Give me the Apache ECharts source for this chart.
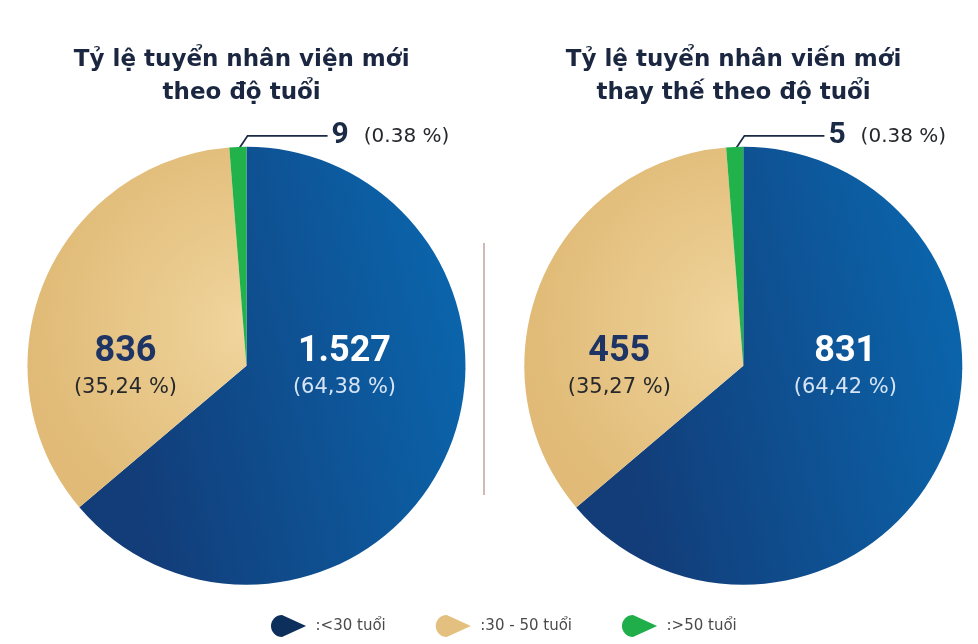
<!DOCTYPE html>
<html>
<head>
<meta charset="utf-8">
<script src="https://cdn.jsdelivr.net/npm/echarts@6/dist/echarts.min.js"></script>
<style>
html, body { margin: 0; padding: 0; background: #fff; }
#chart { width: 978px; height: 644px; }
</style>
</head>
<body>
<div id="chart"></div>
<script>
var categories = ['<30 tuổi', '30 - 50 tuổi', '>50 tuổi'];
var newHireCounts = [1527, 836, 9];
var newHireCountText = ['1.527', '836', '9'];
var newHirePctText = ['64,38 %', '35,24 %', '0.38 %'];
var replaceCounts = [831, 455, 5];
var replaceCountText = ['831', '455', '5'];
var replacePctText = ['64,42 %', '35,27 %', '0.38 %'];
var titles = ['Tỷ lệ tuyển nhân viện mới\ntheo độ tuổi', 'Tỷ lệ tuyển nhân viến mới\nthay thế theo độ tuổi'];

var myChart = echarts.init(document.getElementById('chart'));
var W = myChart.getWidth(), H = myChart.getHeight();
var centers = [['25.2%', '56.8%'], ['76%', '56.8%']];
var radius = 219;
// horizontal offset of the inner labels from the pie center
var labelShift = [[98, -121], [102, -124]];

var blue = new echarts.graphic.LinearGradient(0, 0.2, 1, 0, [
    {offset: 0, color: '#123d79'},
    {offset: 1, color: '#0a69b1'}
]);
var beige = new echarts.graphic.RadialGradient(1, 0.5, 1, [
    {offset: 0, color: '#f0d59d'},
    {offset: 1, color: '#e0ba76'}
]);
var green = '#22b24c';
var colors = [blue, beige, green];
var legendColors = ['#0d2f5c', '#e3c07f', '#1fae4a'];

var tear = 'path://M36,11 L13,0.5 A10.5,10.5 0 1,0 13,21.5 Z';

function buildData(counts, countText, pctText) {
    return counts.map(function (v, i) {
        var item = {
            name: categories[i],
            value: v,
            itemStyle: {color: colors[i]}
        };
        if (i === 2) {
            item.label = {
                position: 'outside',
                formatter: '{g|' + countText[i] + '}{p|(' + pctText[i] + ')}'
            };
            item.labelLine = {show: true, lineStyle: {color: '#1b2a45', width: 1.8}};
        } else {
            item.label = {
                formatter: '{' + (i === 0 ? 'w' : 'n') + '|' + countText[i] + '}\n{' + (i === 0 ? 'wp' : 'np') + '|(' + pctText[i] + ')}'
            };
        }
        return item;
    });
}

function makeSeries(idx, data) {
    var cxPct = parseFloat(centers[idx][0]) / 100;
    var cyPct = parseFloat(centers[idx][1]) / 100;
    return {
        type: 'pie',
        center: centers[idx],
        radius: radius,
        startAngle: 90,
        clockwise: true,
        minAngle: 4.5,
        silent: true,
        itemStyle: {borderWidth: 0},
        label: {
            position: 'inside',
            fontFamily: 'Roboto',
            rich: {
                w: {fontSize: 36, fontWeight: 'bold', fontFamily: 'Roboto', color: '#ffffff', lineHeight: 38},
                wp: {fontSize: 21, fontFamily: 'DejaVu Sans', color: '#d6e4f5', lineHeight: 34},
                n: {fontSize: 36, fontWeight: 'bold', fontFamily: 'Roboto', color: '#1d3464', lineHeight: 38},
                np: {fontSize: 21, fontFamily: 'DejaVu Sans', color: '#26282c', lineHeight: 34},
                g: {fontSize: 30, fontWeight: 'bold', fontFamily: 'Roboto', color: '#1b2a45'},
                p: {fontSize: 20, fontFamily: 'DejaVu Sans', color: '#26282c', padding: [2, 0, 0, 15]}
            }
        },
        labelLayout: function (params) {
            var cx = W * cxPct, cy = H * cyPct;
            if (params.dataIndex === 0) {
                return {x: cx + labelShift[idx][0], y: cy + 3, align: 'center', verticalAlign: 'middle'};
            }
            if (params.dataIndex === 1) {
                return {x: cx + labelShift[idx][1], y: cy + 3, align: 'center', verticalAlign: 'middle'};
            }
            var r = params.rect;
            var sx = r.x + r.width * 0.6, sy = r.y + 1;
            var ly = sy - 12;
            return {
                x: sx + 92, y: ly,
                align: 'left', verticalAlign: 'middle',
                labelLinePoints: [[sx, sy], [sx + 8, ly], [sx + 88, ly]]
            };
        },
        data: data
    };
}

var option = {
    backgroundColor: '#ffffff',
    title: titles.map(function (t, i) {
        return {
            text: t,
            left: i === 0 ? '24.2%' : '74.5%',
            top: 39,
            textAlign: 'center',
            textStyle: {
                fontFamily: 'DejaVu Sans',
                fontSize: 23,
                fontWeight: 'bold',
                color: '#1b2740',
                lineHeight: 33
            }
        };
    }),
    legend: {
        bottom: 2,
        left: 266,
        itemWidth: 36,
        itemHeight: 22,
        itemGap: 50,
        icon: tear,
        selectedMode: false,
        formatter: function (name) { return ':' + name; },
        textStyle: {fontFamily: 'DejaVu Sans', fontSize: 15, color: '#4a4a4a', padding: [0, 0, 0, 4]},
        data: categories.map(function (c, i) {
            return {name: c, itemStyle: {color: legendColors[i]}};
        })
    },
    graphic: [{
        type: 'line',
        shape: {x1: 484, y1: 243, x2: 484, y2: 495},
        style: {stroke: '#b48a8a', lineWidth: 1.2}
    }],
    series: [
        makeSeries(0, buildData(newHireCounts, newHireCountText, newHirePctText)),
        makeSeries(1, buildData(replaceCounts, replaceCountText, replacePctText))
    ]
};
myChart.setOption(option);
</script>
</body>
</html>
